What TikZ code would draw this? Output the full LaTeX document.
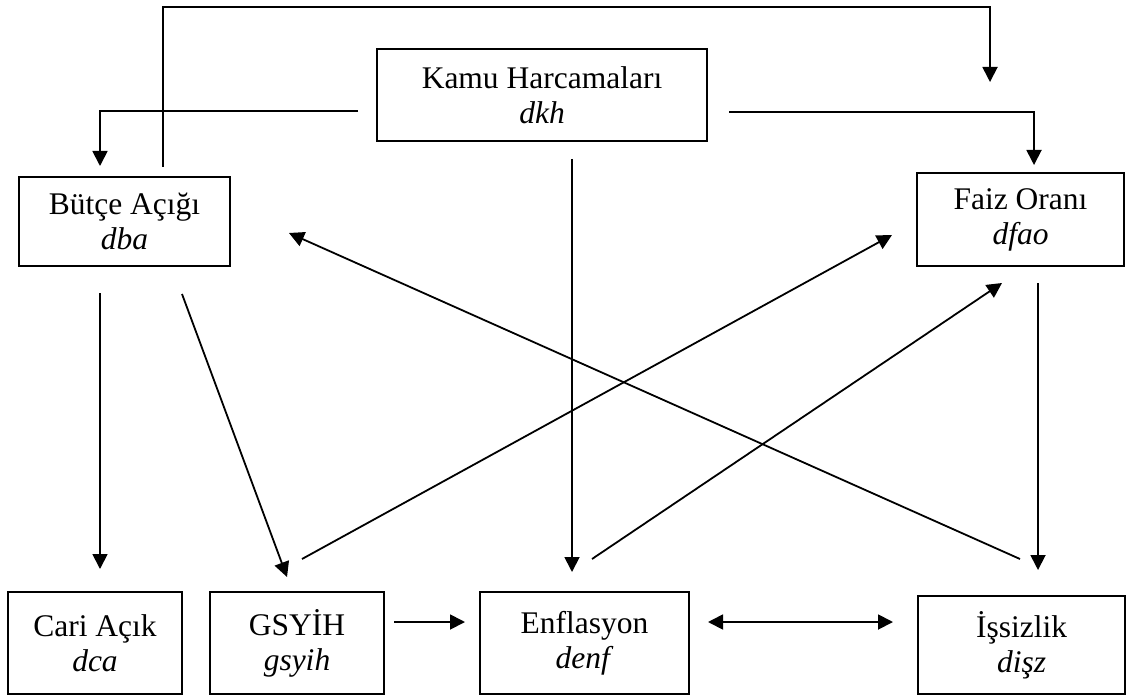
\documentclass[tikz,border=0pt]{standalone}
\usepackage{fontspec}
\setmainfont{Liberation Serif}
\usepackage{tikz}
\usepackage{xcolor}
\usetikzlibrary{calc,arrows.meta,positioning}
\definecolor{inkline}{HTML}{000000}

\tikzset{
  varbox/.style={draw=inkline, line width=1pt, inner sep=0pt, align=center,
    font=\fontsize{15.75}{17.5}\selectfont},
  link/.style={draw=inkline, line width=0.9pt, -{Triangle[length=7.5pt,width=7.5pt]}},
  twolink/.style={link, {Triangle[length=7.5pt,width=7.5pt]}-{Triangle[length=7.5pt,width=7.5pt]}}
}

\begin{document}
\begin{tikzpicture}[x=0.5pt,y=-0.5pt]
  \useasboundingbox (0,0) rectangle (1127,695);

  % variables
  \node[varbox, minimum width=165pt, minimum height=46pt] (kamu) at (542,95) {Kamu Harcamaları\\\textit{dkh}};
  \node[varbox, minimum width=105.5pt, minimum height=44.5pt] (butce) at (124.5,221.5) {Bütçe Açığı\\\textit{dba}};
  \node[varbox, minimum width=103.5pt, minimum height=46.5pt] (faiz) at (1020.5,219.5) {Faiz Oranı\\\textit{dfao}};
  \node[varbox, minimum width=87pt, minimum height=51pt] (cari) at (95,643) {Cari Açık\\\textit{dca}};
  \node[varbox, minimum width=87pt, minimum height=51pt] (gsyih) at (297,643) {GSYİH\\\textit{gsyih}};
  \node[varbox, minimum width=104.5pt, minimum height=51pt] (enf) at (584.5,643) {Enflasyon\\\textit{denf}};
  \node[varbox, minimum width=103.5pt, minimum height=49pt] (issiz) at (1021.5,645) {İşsizlik\\\textit{dişz}};

  \coordinate (loopcorner) at (990,7);
  \coordinate (loopend) at (990,82);

  % links
  \draw[link] ([shift={(38.5,-9)}]butce.north) |- (loopcorner) -- (loopend);
  \draw[link] ([shift={(-18,16)}]kamu.west) -| ([shift={(-24.5,-10)}]butce.north);
  \draw[link] ([shift={(21,17)}]kamu.east) -| ([shift={(13.5,-7)}]faiz.north);
  \draw[link] ([shift={(30,17)}]kamu.south) -- ([shift={(-12.5,-19)}]enf.north);
  \draw[link] ([shift={(-24.5,26)}]butce.south) -- ([shift={(5,-22)}]cari.north);
  \draw[link] ([shift={(57.5,27)}]butce.south) -- ([shift={(-10,-14)}]gsyih.north);
  \draw[link] ([shift={(5,-32)}]gsyih.north) -- ([shift={(-24,15.5)}]faiz.west);
  \draw[link] ([shift={(7.5,-32)}]enf.north) -- ([shift={(-18.5,16)}]faiz.south);
  \draw[link] ([shift={(-1.5,-36)}]issiz.north) -- ([shift={(58,11.5)}]butce.east);
  \draw[link] ([shift={(17.5,16)}]faiz.south) -- ([shift={(16.5,-25)}]issiz.north);
  \draw[link] ([shift={(9,-21)}]gsyih.east) -- ([shift={(-14,-21)}]enf.west);
  \draw[twolink] ([shift={(18,-21)}]enf.east) -- ([shift={(-24,-23)}]issiz.west);
\end{tikzpicture}
\end{document}
